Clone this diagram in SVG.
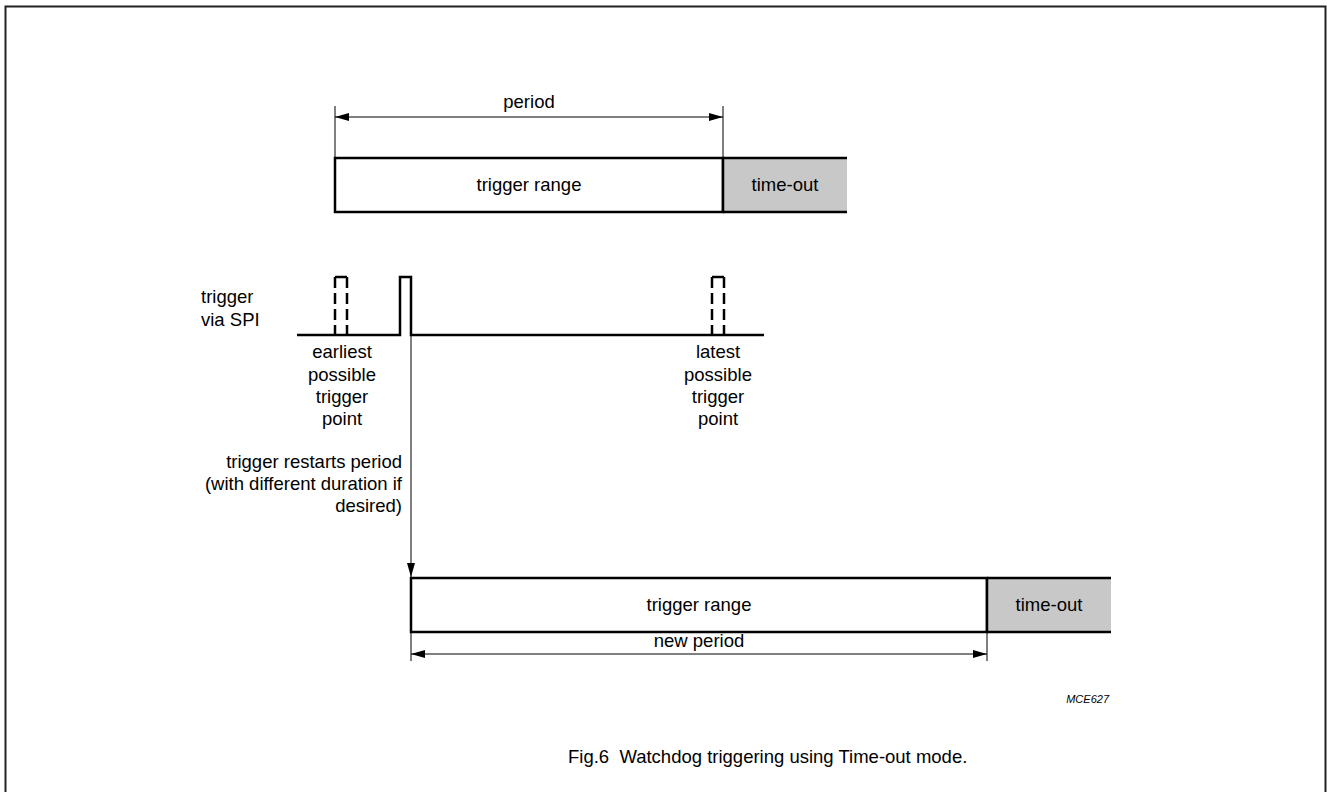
<svg xmlns="http://www.w3.org/2000/svg" width="1327" height="792" viewBox="0 0 1327 792">
<style>
  text { font-family: "Liberation Sans", Arial, sans-serif; font-size: 18.5px; fill: #000; }
  .c { text-anchor: middle; }
  .r { text-anchor: end; }
  .box { fill: #fff; stroke: #000; stroke-width: 2.5; }
  .to { fill: #c8c8c8; stroke: none; }
  .edge { stroke: #000; stroke-width: 2.5; fill: none; }
  .thin { stroke: #000; stroke-width: 1; fill: none; }
  .sig { stroke: #000; stroke-width: 2.5; fill: none; }
  .dash { stroke: #000; stroke-width: 2.5; fill: none; stroke-dasharray: 11 5; }
  .cap { font-size: 18.5px; }
  .id { font-size: 11px; font-style: italic; }
</style>
<defs>
  <marker id="ah" viewBox="0 0 14 8" refX="14" refY="4" markerWidth="14" markerHeight="8" markerUnits="userSpaceOnUse" orient="auto-start-reverse">
    <path d="M0,0 L14,4 L0,8 Z" fill="#000"/>
  </marker>
</defs>
<rect x="5.5" y="6.5" width="1320" height="820" fill="none" stroke="#222" stroke-width="2"/>

<g id="top-period">
  <g id="top-trigger-range">
    <rect class="box" x="335" y="158" width="388" height="54"/>
    <text class="c" x="529" y="191">trigger range</text>
  </g>
  <g id="top-time-out">
    <rect class="to" x="723" y="158" width="124" height="54"/>
    <path class="edge" d="M723,158 H847 M723,212 H847 M723,158 V212"/>
    <text class="c" x="785" y="191">time-out</text>
  </g>
</g>

<g id="trigger-signal">
  <text x="201" y="303">trigger</text>
  <text x="201" y="326">via SPI</text>
  <path class="sig" d="M297,335 H400 V277 H411 V335 H764"/>
  <g id="earliest-pulse">
    <path class="sig" d="M335,277 H347"/>
    <path class="dash" d="M335,277 V335 M347,277 V335"/>
  </g>
  <g id="latest-pulse">
    <path class="sig" d="M712,277 H724"/>
    <path class="dash" d="M712,277 V335 M724,277 V335"/>
  </g>
</g>

<g id="earliest-label">
  <text class="c" x="342" y="358">earliest</text>
  <text class="c" x="342" y="381">possible</text>
  <text class="c" x="342" y="403">trigger</text>
  <text class="c" x="342" y="425">point</text>
</g>
<g id="latest-label">
  <text class="c" x="718" y="358">latest</text>
  <text class="c" x="718" y="381">possible</text>
  <text class="c" x="718" y="403">trigger</text>
  <text class="c" x="718" y="425">point</text>
</g>
<g id="restart-label">
  <text class="r" x="402" y="468">trigger restarts period</text>
  <text class="r" x="402" y="490">(with different duration if</text>
  <text class="r" x="402" y="512">desired)</text>
</g>

<g id="new-period">
  <g id="bottom-trigger-range">
    <rect class="box" x="411" y="578" width="576" height="54"/>
    <text class="c" x="699" y="611">trigger range</text>
  </g>
  <g id="bottom-time-out">
    <rect class="to" x="987" y="578" width="124" height="54"/>
    <path class="edge" d="M987,578 H1111 M987,632 H1111 M987,578 V632"/>
    <text class="c" x="1049" y="611">time-out</text>
  </g>
</g>

<g id="connectors">
  <path class="thin" d="M335,106 V158 M723,106 V158"/>
  <path class="thin" d="M335,117 H723" marker-start="url(#ah)" marker-end="url(#ah)"/>
  <path class="thin" d="M411,336 V577" marker-end="url(#ah)"/>
  <path class="thin" d="M411,633 V661 M987,633 V661"/>
  <path class="thin" d="M411,654 H987" marker-start="url(#ah)" marker-end="url(#ah)"/>
</g>
<text class="c" x="529" y="108">period</text>
<text class="c" x="699" y="647">new period</text>

<text class="id r" x="1109" y="703">MCE627</text>
<text class="cap" x="568" y="763" xml:space="preserve">Fig.6  Watchdog triggering using Time-out mode.</text>
</svg>
